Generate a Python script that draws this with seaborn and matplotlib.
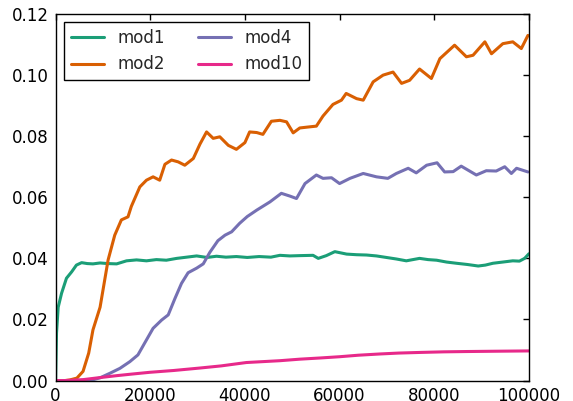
import pandas as pd
import matplotlib
matplotlib.use("Agg")
import matplotlib.pyplot as plt
import seaborn as sns

# values
mod1_x = [0, 200, 550, 1270, 2300, 3400, 4400, 5500, 6700, 7900, 9400, 11000, 12900,
          15000, 17100, 19200, 21300, 23400, 25600, 27700, 29800, 32000, 34000, 36000,
          38200, 40500, 43000, 45500, 47400, 49500, 51600, 54400, 55500, 57200, 59000,
          61500, 63600, 65700, 67800, 69900, 72000, 74100, 76900, 78700, 80500, 82600,
          84700, 87000, 89300, 90800, 92400, 94500, 96600, 98000, 99100, 100000]
mod1_y = [0.0, 0.0156, 0.024, 0.0286, 0.0335, 0.0356, 0.0378, 0.0386, 0.0383, 0.0382,
          0.0385, 0.0383, 0.0382, 0.0392, 0.0395, 0.0392, 0.0396, 0.0394, 0.0400, 0.0404,
          0.0408, 0.0403, 0.0407, 0.0404, 0.0406, 0.0403, 0.0406, 0.0404, 0.0410, 0.0408,
          0.0409, 0.0410, 0.0400, 0.0409, 0.0422, 0.0414, 0.0412, 0.0411, 0.0408, 0.0403,
          0.0398, 0.0392, 0.0400, 0.0396, 0.0394, 0.0388, 0.0384, 0.0380, 0.0375, 0.0378,
          0.0384, 0.0388, 0.0392, 0.0391, 0.0400, 0.0415]

mod2_x = [0, 2000, 3000, 4500, 5800, 7000, 7900, 9400, 11100, 12500, 13900, 15300, 16000,
          17800, 19200, 20600, 22000, 23100, 24500, 25900, 27300, 29100, 30500, 31900,
          33300, 34700, 36500, 38200, 40000, 41000, 42500, 43800, 45600, 47400, 48800,
          50200, 51600, 53300, 55100, 56500, 58600, 60400, 61400, 63600, 65000, 67100,
          69200, 71300, 73100, 74800, 76900, 79400, 81200, 84300, 86800, 88200, 90700,
          92100, 94500, 96600, 98400, 99800]
mod2_y = [0.0, 0.0, 0.0002, 0.0008, 0.003, 0.009, 0.0166, 0.024, 0.0395, 0.0476, 0.0526,
          0.0536, 0.057, 0.0634, 0.0656, 0.0667, 0.0656, 0.0708, 0.0722, 0.0716, 0.0705,
          0.0727, 0.0774, 0.0814, 0.0793, 0.0798, 0.077, 0.0757, 0.0779, 0.0814, 0.0812,
          0.0806, 0.0849, 0.0852, 0.0847, 0.0811, 0.0827, 0.083, 0.0833, 0.0866, 0.0904,
          0.0918, 0.094, 0.0923, 0.0918, 0.0978, 0.1000, 0.1010, 0.0973, 0.0983, 0.1020,
          0.0989, 0.1054, 0.1098, 0.1060, 0.1065, 0.1109, 0.1070, 0.1103, 0.1109, 0.1087,
          0.1130]

mod4_x = [0, 5000, 8000, 9400, 11500, 13600, 15700, 17400, 19200, 20600, 22400, 23800,
          25200, 26600, 28000, 29800, 31200, 32600, 34300, 35800, 37200, 38900, 40500,
          42500, 45300, 47700, 49500, 50900, 52700, 55100, 56500, 58300, 60000, 62200,
          65000, 67800, 70200, 72000, 74500, 76200, 78400, 80600, 82200, 84000, 85700,
          88900, 91000, 93100, 94900, 96300, 97400, 99800]
mod4_y = [0.0, 0.0, 0.0003, 0.0009, 0.0024, 0.004, 0.0062, 0.0084, 0.0133, 0.0171, 0.0198,
          0.0215, 0.0268, 0.0318, 0.0353, 0.0368, 0.0382, 0.0420, 0.0458, 0.0476, 0.0487,
          0.0515, 0.0537, 0.0558, 0.0585, 0.0613, 0.0604, 0.0596, 0.0645, 0.0673, 0.0662,
          0.0664, 0.0645, 0.0662, 0.0678, 0.0667, 0.0662, 0.0678, 0.0695, 0.0680, 0.0705,
          0.0713, 0.0683, 0.0684, 0.0702, 0.0673, 0.0687, 0.0686, 0.0700, 0.0678, 0.0695,
          0.0683]

mod10_x = [0, 2000, 5800, 9000, 12900, 16000, 19900, 25000, 30500, 35000, 40300, 47400,
           51600, 56000, 60000, 64000, 68500, 72500, 76900, 82000, 86800, 93000, 100000]
mod10_y = [0.0, 0.0, 0.0003, 0.0009, 0.0016, 0.0021, 0.0027, 0.0033, 0.0041, 0.0048,
           0.0059, 0.0065, 0.0070, 0.0074, 0.0078, 0.0083, 0.0087, 0.0090, 0.0092, 0.0094,
           0.0095, 0.0096, 0.0097]

series = {
    "mod1": (mod1_x, mod1_y),
    "mod2": (mod2_x, mod2_y),
    "mod4": (mod4_x, mod4_y),
    "mod10": (mod10_x, mod10_y),
}

frames = []
for name, (xs, ys) in series.items():
    frames.append(pd.DataFrame({"step": xs, "value": ys, "model": name}))
df = pd.concat(frames, ignore_index=True)

sns.set_style("white")
plt.rcParams["font.family"] = ["DejaVu Sans"]
plt.rcParams["font.size"] = 12

fig = plt.figure(figsize=(5.73, 4.01), dpi=100)
ax = fig.add_axes([0.097, 0.051, 0.826, 0.914])

sns.lineplot(data=df, x="step", y="value", hue="model",
             hue_order=list(series.keys()), palette="Dark2",
             linewidth=2.2, estimator=None, ax=ax)

ax.set_xlim(0, 100000)
ax.set_ylim(0, 0.12)
ax.set_xticks([0, 20000, 40000, 60000, 80000, 100000])
ax.set_yticks([0.0, 0.02, 0.04, 0.06, 0.08, 0.10, 0.12])
ax.set_yticklabels(["%.2f" % v for v in ax.get_yticks()])
ax.set_xlabel("")
ax.set_ylabel("")
ax.tick_params(direction="in", top=True, right=True, length=4, width=1,
               labelsize=12, colors="black", pad=5)
for sp in ax.spines.values():
    sp.set_color("black")
    sp.set_linewidth(1)

leg = ax.legend(loc="upper left", ncol=2, fontsize=12, fancybox=False,
                edgecolor="black", framealpha=1, handlelength=2.0,
                columnspacing=2.0, borderaxespad=0.5)
leg.get_frame().set_linewidth(1)
for line in leg.get_lines():
    line.set_linewidth(2.2)

fig.savefig("out.png", dpi=100)
